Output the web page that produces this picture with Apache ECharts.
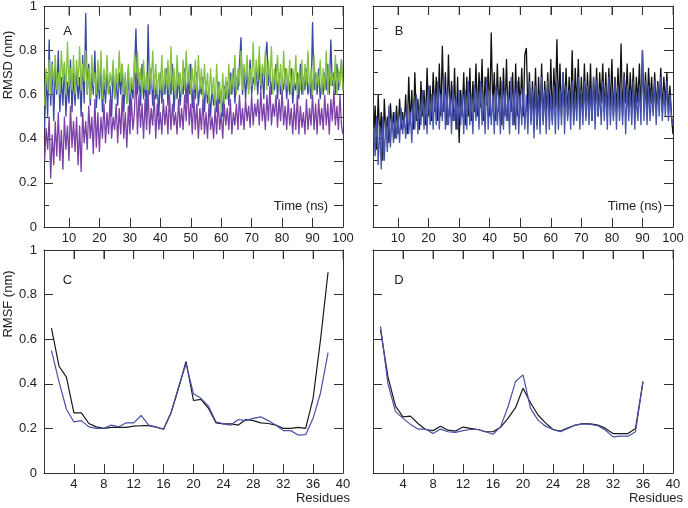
<!DOCTYPE html>
<html><head><meta charset="utf-8">
<script src="https://cdn.jsdelivr.net/npm/echarts@6/dist/echarts.min.js"></script>
<style>html,body{margin:0;padding:0;background:#fff}#c{width:688px;height:508px}</style>
</head><body><div id="c"></div>
<script>
// sampling grid of the time series (ns)
const timeStart = 2, timeStep = 0.5;
const timeTicks = [10,20,30,40,50,60,70,80,90,100];
const residueTicks = [4,8,12,16,20,24,28,32,36,40];

// Panel A
const aGreen = [
0.55,0.72,0.62,0.76,0.6,0.74,0.65,0.78,0.62,0.7,0.6,0.8,0.66,0.75,0.6,0.84,0.64,0.72,0.62,0.78,
0.6,0.76,0.64,0.82,0.62,0.74,0.66,0.8,0.6,0.72,0.58,0.78,0.64,0.7,0.6,0.76,0.62,0.8,0.58,0.72,
0.62,0.78,0.6,0.7,0.64,0.76,0.58,0.72,0.62,0.8,0.66,0.74,0.6,0.7,0.56,0.74,0.6,0.68,0.62,0.78,
0.6,0.8,0.64,0.72,0.6,0.76,0.62,0.7,0.58,0.74,0.64,0.8,0.62,0.74,0.6,0.7,0.62,0.78,0.6,0.72,
0.64,0.76,0.6,0.82,0.62,0.72,0.58,0.78,0.64,0.7,0.6,0.76,0.62,0.8,0.64,0.74,0.6,0.72,0.62,0.76,
0.6,0.78,0.62,0.72,0.58,0.74,0.6,0.7,0.56,0.72,0.6,0.68,0.54,0.74,0.58,0.66,0.52,0.7,0.56,0.68,
0.58,0.74,0.6,0.7,0.62,0.78,0.6,0.72,0.64,0.8,0.62,0.74,0.66,0.78,0.6,0.72,0.64,0.84,0.62,0.76,
0.66,0.82,0.64,0.74,0.68,0.8,0.62,0.76,0.66,0.82,0.6,0.72,0.64,0.78,0.62,0.74,0.6,0.8,0.64,0.72,
0.62,0.76,0.6,0.72,0.64,0.78,0.6,0.7,0.62,0.76,0.6,0.74,0.64,0.8,0.62,0.72,0.6,0.78,0.62,0.7,
0.64,0.76,0.6,0.72,0.62,0.8,0.6,0.74,0.64,0.7,0.62,0.78,0.6,0.72,0.64,0.76,0.62];
const aBlue = [
0.45,0.7,0.5,0.85,0.55,0.75,0.48,0.72,0.6,0.8,0.52,0.68,0.55,0.74,0.5,0.66,0.56,0.76,0.52,0.7,
0.55,0.72,0.58,0.68,0.5,0.78,0.56,0.97,0.6,0.74,0.55,0.7,0.6,0.8,0.54,0.68,0.58,0.72,0.52,0.66,
0.56,0.7,0.6,0.64,0.5,0.72,0.58,0.66,0.55,0.7,0.6,0.74,0.52,0.68,0.56,0.72,0.5,0.66,0.58,0.7,
0.9,0.6,0.7,0.55,0.74,0.58,0.66,0.52,0.92,0.6,0.72,0.55,0.68,0.58,0.64,0.5,0.7,0.56,0.66,0.6,
0.72,0.55,0.68,0.6,0.74,0.52,0.66,0.58,0.7,0.55,0.64,0.6,0.72,0.56,0.68,0.6,0.74,0.54,0.66,0.58,
0.7,0.55,0.64,0.6,0.68,0.52,0.66,0.56,0.62,0.5,0.64,0.55,0.6,0.52,0.66,0.56,0.62,0.5,0.64,0.58,
0.66,0.55,0.7,0.6,0.72,0.56,0.68,0.62,0.74,0.86,0.6,0.72,0.58,0.7,0.62,0.76,0.6,0.68,0.64,0.72,
0.6,0.74,0.62,0.7,0.58,0.76,0.84,0.64,0.72,0.6,0.68,0.62,0.74,0.58,0.7,0.6,0.66,0.62,0.72,0.58,
0.68,0.6,0.72,0.56,0.66,0.62,0.7,0.58,0.74,0.6,0.68,0.62,0.72,0.6,0.66,0.58,0.93,0.62,0.7,0.6,
0.72,0.58,0.66,0.6,0.7,0.62,0.74,0.6,0.85,0.64,0.7,0.6,0.74,0.62,0.68,0.76,0.62];
const aPurple = [
0.3,0.45,0.35,0.5,0.22,0.42,0.28,0.48,0.32,0.52,0.3,0.44,0.26,0.5,0.35,0.46,0.3,0.55,0.36,0.48,
0.34,0.5,0.28,0.46,0.25,0.52,0.38,0.48,0.35,0.55,0.4,0.5,0.33,0.58,0.36,0.52,0.34,0.5,0.4,0.56,
0.38,0.52,0.42,0.58,0.4,0.5,0.44,0.56,0.38,0.54,0.42,0.6,0.4,0.52,0.36,0.55,0.42,0.58,0.44,0.52,
0.7,0.42,0.6,0.45,0.56,0.4,0.58,0.44,0.62,0.42,0.54,0.46,0.6,0.4,0.56,0.44,0.52,0.42,0.58,0.46,
0.55,0.42,0.6,0.44,0.56,0.46,0.52,0.42,0.58,0.45,0.54,0.44,0.6,0.48,0.65,0.46,0.56,0.42,0.6,0.44,
0.56,0.4,0.54,0.44,0.58,0.42,0.52,0.4,0.56,0.44,0.5,0.4,0.54,0.42,0.58,0.44,0.52,0.4,0.56,0.46,
0.54,0.44,0.58,0.42,0.52,0.46,0.56,0.44,0.6,0.46,0.54,0.44,0.58,0.48,0.55,0.45,0.6,0.46,0.56,0.5,
0.58,0.46,0.62,0.48,0.56,0.44,0.6,0.48,0.64,0.46,0.56,0.5,0.6,0.45,0.58,0.48,0.62,0.46,0.55,0.44,
0.58,0.46,0.54,0.42,0.56,0.44,0.6,0.42,0.55,0.45,0.52,0.42,0.58,0.44,0.54,0.46,0.6,0.44,0.56,0.42,
0.58,0.46,0.54,0.44,0.6,0.46,0.56,0.42,0.58,0.48,0.62,0.46,0.55,0.44,0.6,0.46,0.42];

// Panel B
const bBlack = [
0.4,0.55,0.35,0.6,0.4,0.52,0.3,0.58,0.42,0.5,0.38,0.56,0.44,0.52,0.4,0.55,0.42,0.58,0.44,0.52,
0.45,0.6,0.42,0.68,0.46,0.62,0.44,0.7,0.48,0.58,0.44,0.66,0.5,0.62,0.46,0.72,0.5,0.64,0.48,0.7,
0.52,0.68,0.48,0.74,0.5,0.82,0.52,0.7,0.46,0.78,0.5,0.66,0.48,0.72,0.44,0.68,0.38,0.62,0.5,0.7,
0.46,0.68,0.5,0.72,0.48,0.66,0.52,0.74,0.5,0.7,0.54,0.76,0.48,0.68,0.55,0.72,0.5,0.88,0.54,0.7,
0.48,0.74,0.52,0.68,0.46,0.72,0.5,0.76,0.48,0.66,0.52,0.7,0.46,0.74,0.5,0.68,0.54,0.72,0.5,0.78,
0.81,0.52,0.7,0.48,0.66,0.5,0.72,0.46,0.68,0.5,0.74,0.48,0.66,0.52,0.7,0.5,0.76,0.48,0.72,0.54,
0.85,0.52,0.74,0.5,0.7,0.54,0.72,0.5,0.68,0.52,0.8,0.48,0.72,0.54,0.76,0.5,0.68,0.52,0.74,0.5,
0.7,0.52,0.74,0.48,0.68,0.54,0.72,0.5,0.7,0.56,0.74,0.52,0.7,0.5,0.72,0.54,0.76,0.5,0.68,0.52,
0.72,0.54,0.83,0.5,0.7,0.56,0.74,0.52,0.7,0.54,0.72,0.5,0.68,0.56,0.74,0.52,0.8,0.54,0.7,0.52,
0.72,0.56,0.68,0.52,0.7,0.54,0.66,0.56,0.72,0.52,0.68,0.55,0.7,0.52,0.64,0.5,0.42];
const bBlue = [
0.45,0.32,0.5,0.28,0.46,0.26,0.5,0.3,0.48,0.34,0.55,0.36,0.5,0.38,0.52,0.4,0.5,0.38,0.54,0.42,
0.5,0.4,0.55,0.42,0.52,0.38,0.58,0.44,0.6,0.42,0.55,0.46,0.62,0.44,0.58,0.42,0.64,0.46,0.6,0.44,
0.62,0.46,0.66,0.44,0.6,0.48,0.68,0.44,0.62,0.46,0.6,0.42,0.64,0.48,0.58,0.44,0.62,0.46,0.6,0.42,
0.62,0.44,0.66,0.46,0.6,0.42,0.64,0.48,0.62,0.44,0.66,0.46,0.6,0.42,0.68,0.44,0.62,0.46,0.6,0.42,
0.64,0.46,0.6,0.42,0.66,0.44,0.62,0.48,0.6,0.42,0.68,0.46,0.62,0.44,0.66,0.42,0.6,0.46,0.64,0.44,
0.6,0.42,0.66,0.46,0.62,0.4,0.64,0.44,0.6,0.42,0.68,0.46,0.62,0.42,0.66,0.44,0.6,0.46,0.64,0.42,
0.66,0.44,0.62,0.46,0.7,0.42,0.64,0.48,0.62,0.44,0.66,0.46,0.6,0.48,0.68,0.44,0.62,0.46,0.66,0.48,
0.64,0.46,0.62,0.48,0.68,0.44,0.66,0.5,0.62,0.46,0.66,0.48,0.64,0.44,0.68,0.46,0.62,0.48,0.66,0.44,
0.64,0.48,0.62,0.46,0.68,0.42,0.64,0.48,0.62,0.46,0.66,0.44,0.6,0.48,0.64,0.46,0.8,0.48,0.66,0.46,
0.64,0.48,0.62,0.5,0.66,0.46,0.64,0.5,0.68,0.48,0.62,0.5,0.66,0.48,0.6,0.5,0.46];

// Panels C and D (RMSF per residue)
const cResidues = [1,2,3,4,5,6,7,8,9,10,11,12,13,14,15,16,17,18,19,20,21,22,23,24,25,26,27,28,29,30,31,32,33,34,35,36,37,38];
const cBlack = [0.65,0.48,0.43,0.27,0.27,0.222,0.207,0.2,0.205,0.205,0.205,0.21,0.212,0.212,0.205,0.197,0.27,0.38,0.5,0.325,0.33,0.29,0.225,0.22,0.22,0.215,0.24,0.235,0.225,0.222,0.215,0.2,0.2,0.205,0.2,0.335,0.6,0.9];
const cBlue = [0.55,0.41,0.286,0.229,0.235,0.207,0.2,0.2,0.215,0.207,0.225,0.225,0.258,0.215,0.207,0.196,0.27,0.386,0.49,0.355,0.335,0.3,0.23,0.22,0.215,0.24,0.235,0.245,0.252,0.235,0.215,0.19,0.19,0.17,0.172,0.245,0.36,0.54];
const dResidues = [1,2,3,4,5,6,7,8,9,10,11,12,13,14,15,16,17,18,19,20,21,22,23,24,25,26,27,28,29,30,31,32,33,34,35,36];
const dBlack = [0.643,0.43,0.3,0.252,0.255,0.222,0.195,0.19,0.21,0.192,0.188,0.206,0.2,0.195,0.185,0.185,0.205,0.245,0.293,0.38,0.315,0.26,0.225,0.195,0.188,0.203,0.215,0.222,0.22,0.215,0.2,0.177,0.177,0.177,0.2,0.41];
const dBlue = [0.658,0.4,0.275,0.245,0.218,0.197,0.197,0.177,0.197,0.185,0.182,0.19,0.195,0.195,0.185,0.174,0.207,0.297,0.41,0.44,0.29,0.237,0.21,0.195,0.185,0.2,0.215,0.22,0.218,0.212,0.192,0.162,0.165,0.165,0.185,0.41];

const FONT = 'Liberation Sans, Arial, sans-serif';
const TXT = '#222';
const AX = '#333';

function timePairs(vals){ return vals.map((v,i)=>[timeStart+timeStep*i, v]); }
function resPairs(xs, vals){ return xs.map((x,i)=>[x, vals[i]]); }

function xAx(gi, pos, isTime, labels){
  const ticks = isTime ? timeTicks : residueTicks;
  return {
    type:'value', gridIndex:gi, position:pos,
    min: isTime ? 1.8 : 0, max: isTime ? 100 : 40,
    axisLine:{show:true, onZero:false, lineStyle:{color:AX, width:1}},
    axisTick:{show:true, inside:true, length:9, customValues:ticks, lineStyle:{color:AX}},
    axisLabel:{show:labels, customValues:ticks, margin:5, color:TXT, fontFamily:FONT, fontSize:13},
    splitLine:{show:false}
  };
}
function yAx(gi, pos, labels, minor, step){
  return {
    type:'value', gridIndex:gi, position:pos, min:0, max:1, interval:step,
    axisLine:{show:true, onZero:false, lineStyle:{color:AX, width:1}},
    axisTick:{show:true, inside:true, length:9, lineStyle:{color:AX}},
    minorTick:{show:minor, splitNumber:2, length:5, lineStyle:{color:AX}},
    axisLabel:{show:labels, margin:7, color:TXT, fontFamily:FONT, fontSize:13},
    splitLine:{show:false}, minorSplitLine:{show:false}
  };
}
function txt(x,y,t,rot){
  return {type:'text', x:x, y:y, rotation:rot||0, silent:true, z:100,
    style:{text:t, font:'13px ' + FONT, fill:TXT, textAlign:'center', align:'center', textVerticalAlign:'middle', verticalAlign:'middle'}};
}
function line(xi, yi, data, color, w){
  return {type:'line', xAxisIndex:xi, yAxisIndex:yi, data:data, showSymbol:false, symbol:'none',
    lineStyle:{color:color, width:w}, itemStyle:{color:color}, animation:false, silent:true, clip:true};
}
// mirrored tick marks along the top frame edge, placed at the tick values on the panel's own scales
function topTicks(xi, yi, ticks){
  return {type:'scatter', xAxisIndex:xi, yAxisIndex:yi, data:ticks.map(t=>[t,1]),
    symbol:'rect', symbolSize:[1,9], symbolOffset:[0,4.5], itemStyle:{color:AX},
    silent:true, clip:false, z:5, animation:false};
}

const chart = echarts.init(document.getElementById('c'), null, {renderer:'canvas'});
chart.setOption({
  backgroundColor:'#fff',
  animation:false,
  grid:[
    {left:44, top:6, width:299, height:221},
    {left:373, top:6, width:300, height:221},
    {left:44, top:250, width:299, height:223},
    {left:373, top:250, width:300, height:223}
  ],
  xAxis:[
    xAx(0,'bottom',true,true), xAx(0,'top',true,false),
    xAx(1,'bottom',true,true), xAx(1,'top',true,false),
    xAx(2,'bottom',false,true), xAx(2,'top',false,false),
    xAx(3,'bottom',false,true), xAx(3,'top',false,false)
  ],
  yAxis:[
    yAx(0,'left',true,true,0.2), yAx(0,'right',false,false,0.1),
    yAx(1,'left',false,true,0.2), yAx(1,'right',false,false,0.1),
    yAx(2,'left',true,false,0.2), yAx(2,'right',false,false,0.2),
    yAx(3,'left',false,false,0.2), yAx(3,'right',false,false,0.2)
  ],
  series:[
    line(0,0,timePairs(aBlue),'#3a47a3',1.3),
    line(0,0,timePairs(aGreen),'#84c341',1.3),
    line(0,0,timePairs(aPurple),'#7b41a6',1.3),
    line(2,2,timePairs(bBlack),'#111111',1.3),
    line(2,2,timePairs(bBlue),'#4654b0',1.3),
    line(4,4,resPairs(cResidues,cBlack),'#1a1a1a',1.2),
    line(4,4,resPairs(cResidues,cBlue),'#4a4fa8',1.2),
    line(6,6,resPairs(dResidues,dBlack),'#1a1a1a',1.2),
    line(6,6,resPairs(dResidues,dBlue),'#4a4fa8',1.2),
    topTicks(0,0,timeTicks), topTicks(2,2,timeTicks),
    topTicks(4,4,residueTicks), topTicks(6,6,residueTicks)
  ],
  graphic:[
    txt(67.5,31,'A'), txt(399,31,'B'), txt(67.5,280,'C'), txt(399,280,'D'),
    txt(301,206,'Time (ns)'), txt(635,206,'Time (ns)'),
    txt(323,498,'Residues'), txt(656,498,'Residues'),
    txt(8.5,65,'RMSD (nm)',Math.PI/2), txt(8.5,304,'RMSF (nm)',Math.PI/2)
  ]
});
</script></body></html>
